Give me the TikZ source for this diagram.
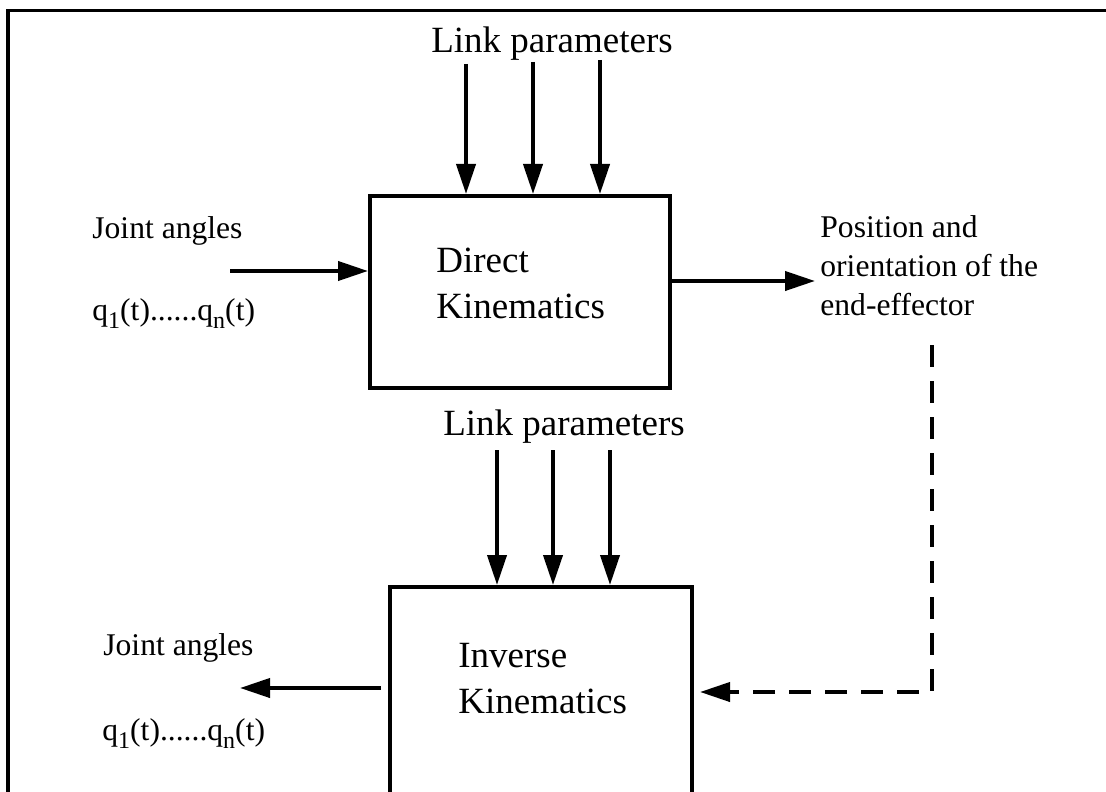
\documentclass[tikz,border=0pt]{standalone}
\usepackage{fontspec}
\setmainfont{Liberation Serif}
\usetikzlibrary{arrows.meta}
\newcommand\qsub[1]{\raisebox{-4pt}{\fontsize{12}{12}\selectfont #1}}
\begin{document}
\begin{tikzpicture}[x=0.5pt,y=-0.5pt,
  frameline/.style={line width=1.7pt},
  block/.style={draw, line width=2pt, rectangle, inner sep=0pt},
  big/.style={inner sep=0pt, font=\fontsize{18.5}{22}\selectfont},
  small/.style={inner sep=0pt, font=\fontsize{15.8}{19}\selectfont},
  arr/.style={line width=2pt, -{Triangle[length=15pt,width=9.5pt]}},
  dasharr/.style={arr, dash pattern=on 11pt off 7pt}]
\useasboundingbox (0,0) rectangle (1106,791);
\clip (0,0) rectangle (1106,791);
\fill[white] (0,0) rectangle (1106,791);

% open frame: top and left sides
\draw[frameline] (8,800) -- (8,10.5) -- (1110,10.5);

% direct kinematics block
\node[block, minimum width=150pt, minimum height=96pt] (dk) at (520,292) {};
\node[big, anchor=base west] (dk1) at (436,272) {Direct};
\node[big, anchor=base west] (dk2) at (436,318) {Kinematics};

% inverse kinematics block (runs past the lower edge)
\node[block, minimum width=151pt, minimum height=130pt] (ik) at (541,717) {};
\node[big, anchor=base west] (ik1) at (458,667) {Inverse};
\node[big, anchor=base west] (ik2) at (458,713) {Kinematics};

% link parameters feeding the direct block
\node[big, anchor=base] (lp1) at (552,53) {Link parameters};
\coordinate (a1) at (466,64);
\coordinate (a2) at (533,62);
\coordinate (a3) at (600,60);
\foreach \c in {a1,a2,a3} \draw[arr] (\c) -- (\c |- dk.north);

% link parameters feeding the inverse block
\node[big, anchor=base] (lp2) at (564,435) {Link parameters};
\coordinate (b1) at (497,450);
\coordinate (b2) at (553,450);
\coordinate (b3) at (610,450);
\foreach \c in {b1,b2,b3} \draw[arr] (\c) -- (\c |- ik.north);

% joint angles into the direct block
\node[small, anchor=base west] (ja1) at (92,238) {Joint angles};
\node[small, anchor=base west] (qa1) at (92,320) {q\qsub{1}(t)......q\qsub{n}(t)};
\coordinate (ji) at (230,271);
\draw[arr] (ji) -- (ji -| dk.west);

% pose out of the direct block
\node[small, anchor=base west] (po1) at (820,237) {Position and};
\node[small, anchor=base west] (po2) at (820,276) {orientation of the};
\node[small, anchor=base west] (po3) at (820,315) {end-effector};
\coordinate (po) at (815,281);
\draw[arr] (dk.east |- po) -- (po);

% pose fed back into the inverse block
\coordinate (dtop) at (932,345);
\coordinate (dtip) at (700,692);
\draw[dasharr] (dtop) |- (dtip);

% joint angles out of the inverse block
\node[small, anchor=base west] (ja2) at (103,655) {Joint angles};
\node[small, anchor=base west] (qa2) at (102,740) {q\qsub{1}(t)......q\qsub{n}(t)};
\coordinate (jo) at (240,688);
\draw[arr, shorten <=3.5pt] (ik.west |- jo) -- (jo);
\end{tikzpicture}
\end{document}
